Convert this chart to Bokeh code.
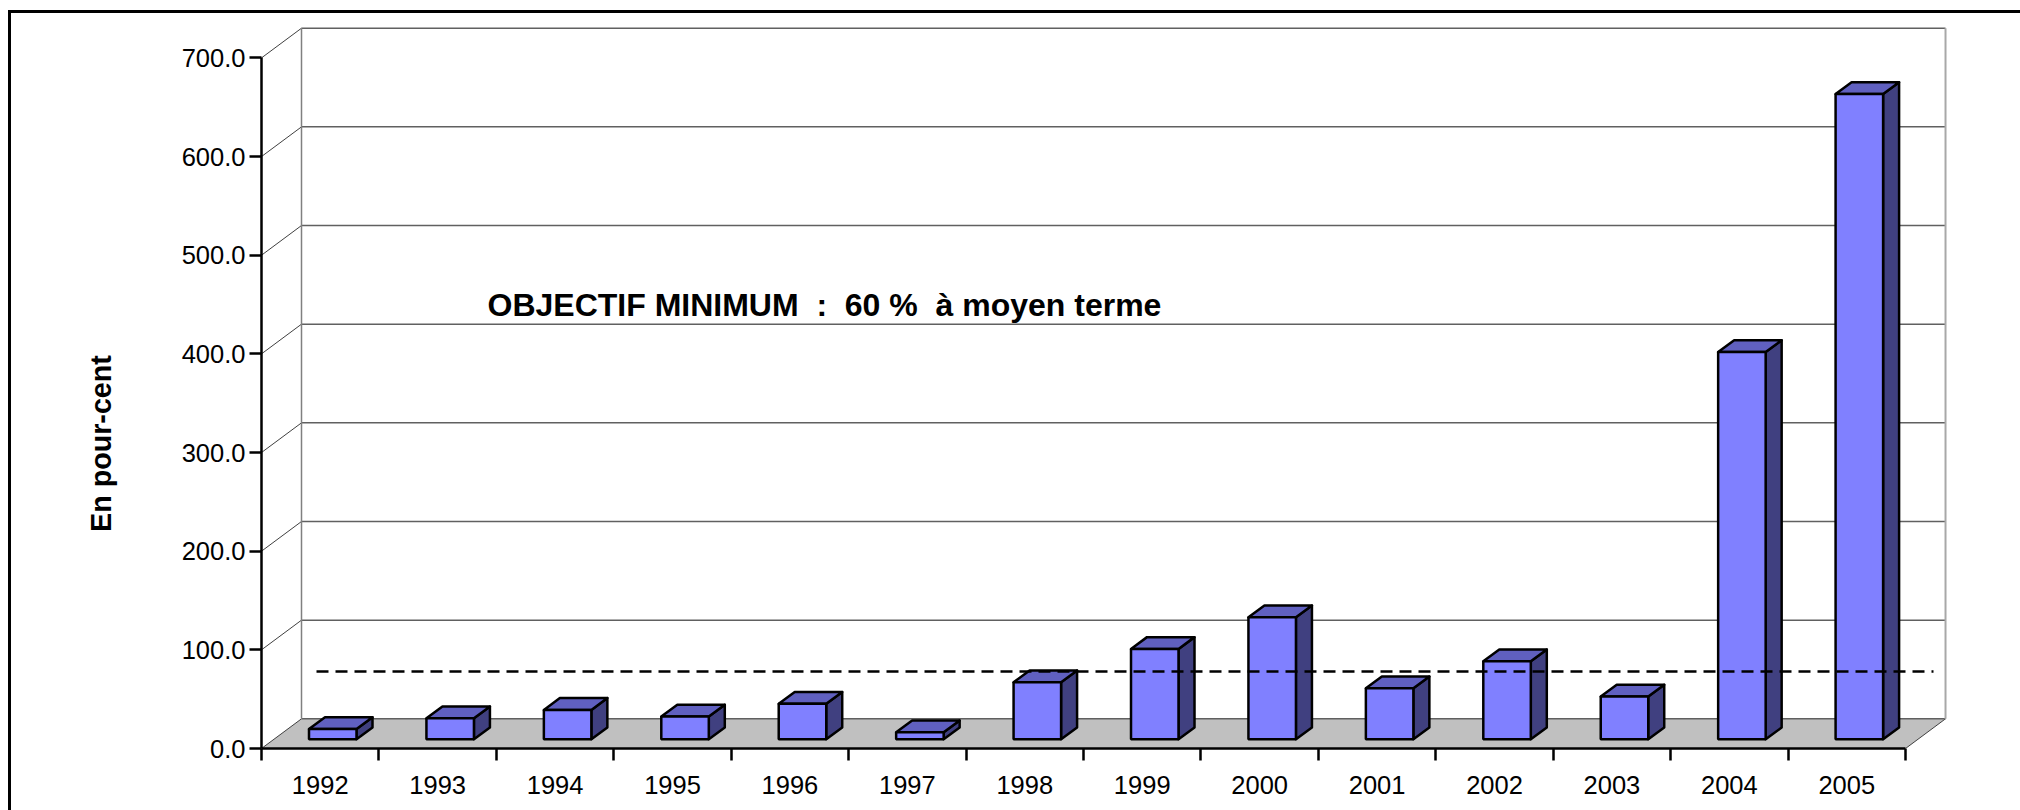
from bokeh.plotting import figure
from bokeh.models import Range1d, FixedTicker, NumeralTickFormatter, LinearAxis, Title
from bokeh.core.properties import value
from bokeh.embed import file_html
from bokeh.resources import INLINE

years = list(range(1992, 2006))
values = [10.5, 21.3, 29.8, 23.0, 36.0, 7.2, 57.8, 91.6, 123.6, 51.7, 79.0, 43.3, 392.5, 654.0]
y_ticks = [0, 100, 200, 300, 400, 500, 600, 700]
objective_text = "OBJECTIF MINIMUM\u00a0 :\u00a0 60 %\u00a0 à moyen terme"
objective_level = 78.0
y_title = "En pour-cent"

FONT = "Liberation Sans"
PX_X = 117.43
PX_Y = 690.6 / 700
WIDTH, HEIGHT = 2020, 810
L, B, R, T = 261, 62, 45, 14   # frame margins

x0 = 1991.5
x_end = x0 + (WIDTH - L - R) / PX_X
y_end = (HEIGHT - B - T) / PX_Y

DX = 40 / PX_X          # wall depth
DY = 29.7 / PX_Y
BX = 47.5 / PX_X        # bar left offset inside its slot
BW = 47.5 / PX_X        # bar width
BASE = 9.2 / PX_Y       # bar foot above the axis
SX = 16 / PX_X          # bar depth
SY = 11.8 / PX_Y

frame_css = """
:host { position: relative; overflow: visible; }
:host::before { content: ""; position: absolute; left: 8px; top: 10px; width: 2012px; height: 3px;
                background: black; z-index: 5; }
:host::after { content: ""; position: absolute; left: 8px; top: 10px; width: 3px; height: 800px;
               background: black; z-index: 5; }
"""

p = figure(width=WIDTH, height=HEIGHT, output_backend="svg", toolbar_location=None,
           x_range=Range1d(x0, x_end), y_range=Range1d(0, y_end),
           min_border_left=L, min_border_right=R, min_border_top=T, min_border_bottom=B,
           background_fill_color="white", border_fill_color="white",
           stylesheets=[frame_css])
p.outline_line_color = None
p.grid.visible = False

xa = p.xaxis[0]
xa.bounds = (x0, x0 + len(years))
xa.ticker = FixedTicker(ticks=years, minor_ticks=[x0 + i for i in range(len(years) + 1)])
xa.major_label_overrides = {y: str(y) for y in years}
xa.major_tick_line_color = None
xa.major_tick_out = 0
xa.major_tick_in = 0
xa.minor_tick_line_color = "black"
xa.minor_tick_line_width = 2.5
xa.minor_tick_out = 12
xa.minor_tick_in = 0
xa.axis_line_color = "black"
xa.axis_line_width = 2.5
xa.major_label_standoff = 15
xa.major_label_text_font = FONT
xa.major_label_text_font_size = "25.5px"
xa.major_label_text_color = "black"

ya = p.yaxis[0]
ya.bounds = (0, 700)
ya.ticker = FixedTicker(ticks=y_ticks)
ya.formatter = NumeralTickFormatter(format="0.0")
ya.minor_tick_line_color = None
ya.major_tick_line_color = "black"
ya.major_tick_line_width = 2.5
ya.major_tick_out = 12
ya.major_tick_in = 0
ya.axis_line_color = "black"
ya.axis_line_width = 2.5
ya.major_label_standoff = 4
ya.major_label_text_font = FONT
ya.major_label_text_font_size = "25.5px"
ya.major_label_text_color = "black"

# empty spacer axis between the tick labels and the rotated title
spacer = LinearAxis(ticker=FixedTicker(ticks=[]), axis_line_color=None, major_tick_line_color=None,
                    minor_tick_line_color=None, major_label_text_color=None,
                    major_tick_out=0, major_tick_in=0, minor_tick_out=0,
                    axis_label="\u00a0", axis_label_standoff=48,
                    axis_label_text_font_size="10px", axis_label_text_color=None)
p.add_layout(spacer, "left")
p.add_layout(Title(text=y_title, align="left", offset=748 - 531.5, standoff=0,
                   text_font=FONT, text_font_style="bold", text_font_size="28.7px",
                   text_color="black"), "left")

x1 = x0 + len(years)
# floor
p.patch([x0, x1, x1 + DX, x0 + DX], [0, 0, DY, DY], fill_color="#c0c0c0", line_color=None)
# side diagonals
p.multi_line([[x0, x0 + DX] for _ in y_ticks], [[t, t + DY] for t in y_ticks],
             line_color="#404040", line_width=1)
p.line([x1, x1 + DX], [0, DY], line_color="#404040", line_width=1)
# back wall grid
p.multi_line([[x0 + DX, x1 + DX] for _ in y_ticks], [[t + DY, t + DY] for t in y_ticks],
             line_color="#606060", line_width=1.5)
p.line([x0 + DX, x0 + DX], [DY, 700 + DY], line_color="#808080", line_width=1.5)
p.line([x1 + DX, x1 + DX], [DY, 700 + DY], line_color="#a8a8a8", line_width=2)

# bars
left = [y - 0.5 + BX for y in years]
right = [l + BW for l in left]
top = [BASE + v for v in values]
bottom = [BASE] * len(values)

p.patches([[r, r + SX, r + SX, r] for r in right],
          [[b, b + SY, t + SY, t] for b, t in zip(bottom, top)],
          fill_color="#404080", line_color="black", line_width=2.5, line_join="round")
p.patches([[l, r, r + SX, l + SX] for l, r in zip(left, right)],
          [[t, t, t + SY, t + SY] for t in top],
          fill_color="#6060c0", line_color="black", line_width=2.5, line_join="round")
p.quad(left=left, right=right, bottom=bottom, top=top,
       fill_color="#8080ff", line_color="black", line_width=2.5)

# objective line + text
p.line([x0 + 55 / PX_X, x0 + 1672 / PX_X], [objective_level, objective_level],
       line_color="black", line_width=2.5, line_dash="12 7")
p.text([x0 + 226 / PX_X], [(748 - 304) / PX_Y], text=[objective_text],
       text_font=value(FONT), text_font_style="bold", text_font_size="32px",
       text_color="black", text_align="left", text_baseline="alphabetic")

open("out.html", "w").write(file_html(p, INLINE))
